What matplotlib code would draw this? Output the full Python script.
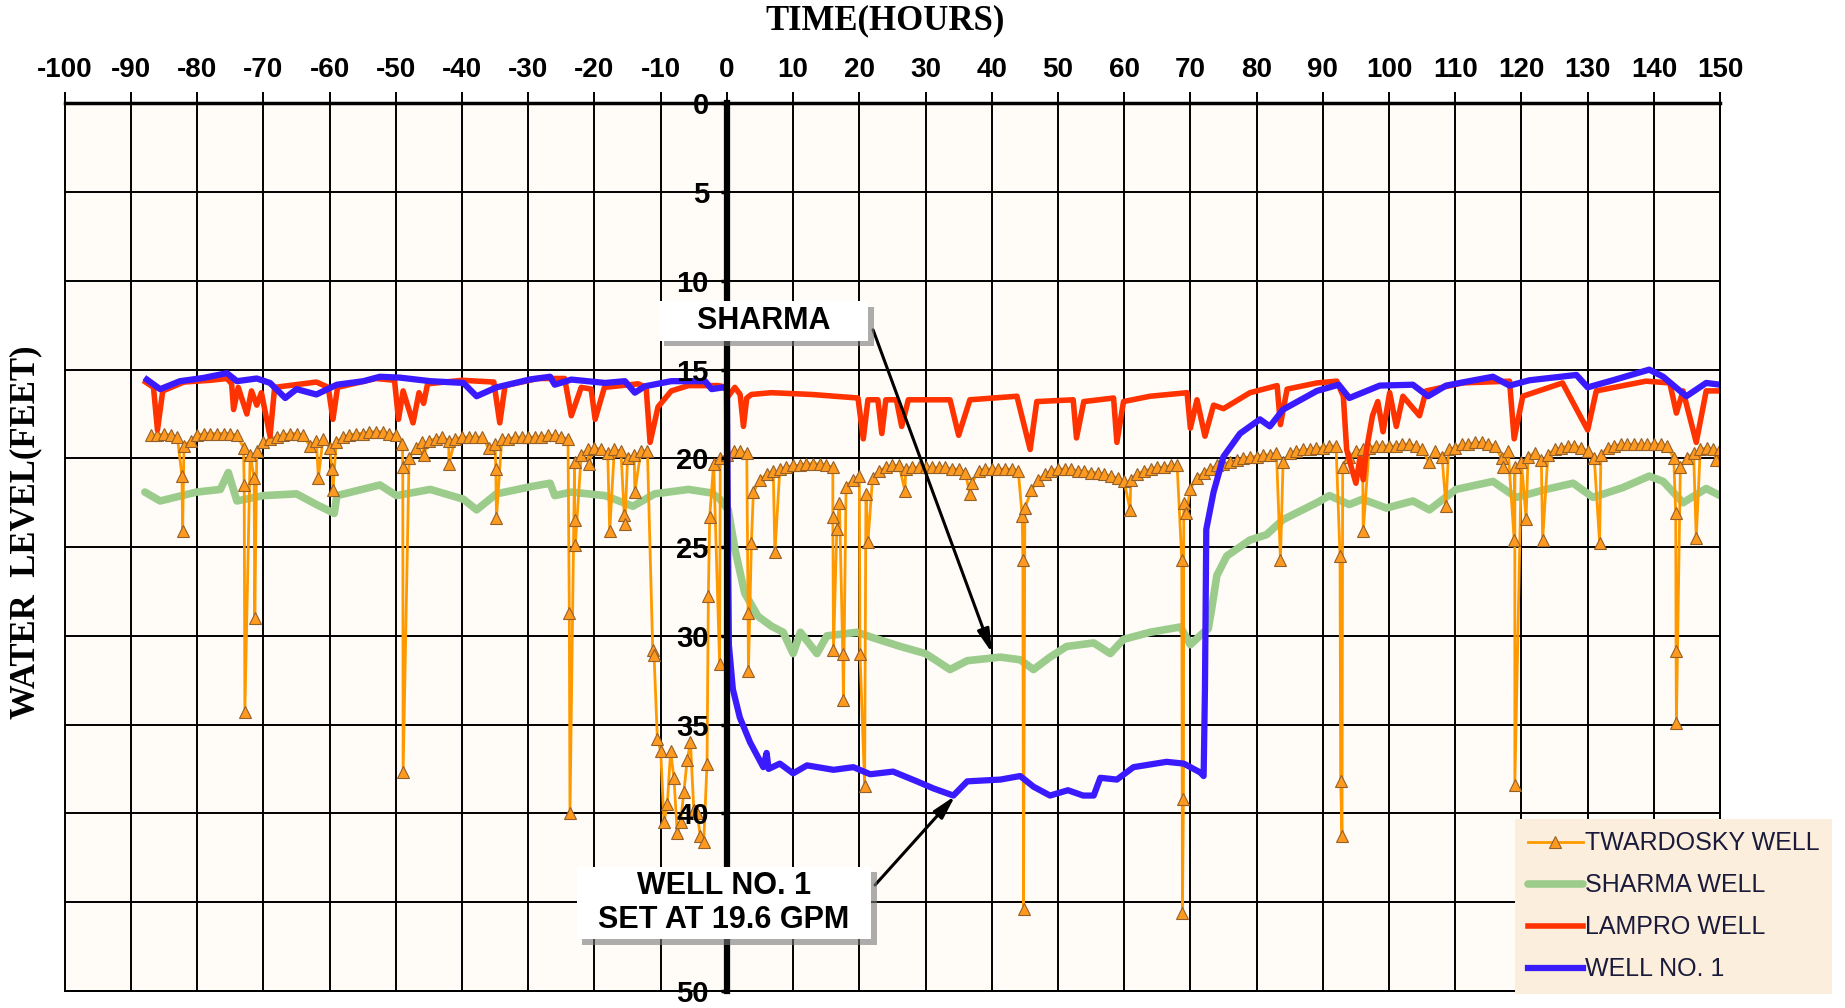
import numpy as np
import matplotlib
matplotlib.use("Agg")
import matplotlib.pyplot as plt
import matplotlib.patheffects as pe

plt.rcParams['axes.unicode_minus'] = False

# ---- WELL NO. 1 (pumped well) ----
well_t = [-87.6, -85.6, -82.6, -79.1, -75.5, -74.0, -71.0, -69.0, -66.7, -65.0,
          -62.0, -58.9, -54.9, -52.4, -49.4, -44.8, -39.8, -37.8, -34.8, -29.7,
          -26.7, -26.0, -23.5, -18.4, -15.4, -13.9, -12.4, -8.4, -3.3, -2.3,
          -0.55, 0.0, 0.15, 0.3, 0.9, 1.95, 3.5, 5.5, 6.0, 6.3,
          8.0, 10.0, 12.1, 16.1, 19.1, 21.65, 25.1, 28.7, 31.2, 34.2,
          36.3, 41.3, 44.3, 46.3, 48.8, 51.5, 53.8, 55.4, 56.4, 58.9,
          61.4, 66.4, 69.0, 71.5, 72.0, 72.2, 72.4, 73.5, 75.0, 77.5,
          80.5, 82.0, 84.0, 89.1, 92.4, 94.0, 98.6, 103.6, 105.9, 108.6,
          112.1, 115.7, 118.2, 121.2, 128.3, 130.0, 133.8, 139.3, 141.4, 144.9,
          147.9, 150.0]
well_y = [15.56, 16.1, 15.65, 15.47, 15.2, 15.65, 15.5, 15.75, 16.6, 16.1,
          16.4, 15.85, 15.65, 15.4, 15.45, 15.65, 15.75, 16.5, 16.0, 15.55,
          15.4, 15.85, 15.56, 15.75, 15.65, 16.3, 15.94, 15.65, 15.65, 16.1,
          16.0, 16.1, 24.0, 30.5, 33.0, 34.6, 36.0, 37.4, 36.6, 37.5,
          37.2, 37.75, 37.3, 37.55, 37.4, 37.8, 37.65, 38.2, 38.6, 39.0,
          38.2, 38.1, 37.9, 38.5, 39.0, 38.7, 39.0, 39.0, 38.0, 38.1,
          37.4, 37.1, 37.2, 37.7, 37.9, 33.0, 24.0, 21.9, 19.9, 18.6,
          17.8, 18.2, 17.25, 16.2, 15.85, 16.6, 15.9, 15.85, 16.5, 15.9,
          15.65, 15.4, 15.9, 15.6, 15.3, 16.0, 15.6, 15.0, 15.4, 16.5,
          15.75, 15.85]

# ---- LAMPRO WELL ----
lam_t = [-87.8, -86.6, -86.0, -85.2, -82.0, -78.0, -75.5, -74.8, -74.5, -73.8,
         -72.5, -71.8, -71.0, -70.3, -69.0, -68.3, -62.0, -60.2, -59.5, -58.8,
         -53.0, -50.2, -49.6, -48.9, -47.4, -46.5, -45.8, -45.2, -40.0, -35.2,
         -34.3, -33.5, -28.5, -24.5, -23.5, -22.0, -20.5, -19.9, -18.5, -13.4,
         -12.2, -11.6, -10.4, -8.4, -5.8, -1.3, 0.0, 0.2, 1.2, 2.0,
         2.5, 3.0, 3.7, 6.7, 12.8, 19.8, 20.6, 21.3, 22.8, 23.4,
         24.0, 25.6, 26.4, 27.4, 33.7, 35.0, 36.7, 43.8, 45.8, 46.8,
         52.3, 52.8, 53.9, 58.4, 58.9, 59.9, 63.9, 69.5, 70.0, 71.0,
         72.2, 73.5, 75.0, 79.0, 83.1, 83.6, 84.6, 89.1, 92.1, 93.1,
         93.6, 94.3, 95.0, 95.6, 96.1, 96.6, 97.5, 98.3, 99.1, 100.1,
         101.1, 102.1, 104.6, 105.6, 111.1, 118.2, 118.9, 120.2, 126.2, 130.0,
         131.3, 138.8, 142.4, 143.4, 144.4, 146.4, 147.9, 150.0]
lam_y = [15.7, 16.0, 18.4, 16.2, 15.7, 15.6, 15.5, 15.8, 17.25, 16.0,
         17.5, 16.2, 17.0, 16.3, 18.75, 16.0, 15.7, 16.0, 17.8, 16.0,
         15.5, 15.6, 17.8, 16.2, 18.0, 16.3, 16.9, 15.8, 15.6, 15.7,
         18.0, 15.9, 15.5, 15.5, 17.6, 16.0, 16.1, 17.8, 16.0, 15.8,
         16.0, 19.1, 17.1, 16.2, 15.9, 15.9, 16.0, 16.5, 16.0, 16.4,
         18.2, 16.6, 16.4, 16.3, 16.4, 16.6, 18.9, 16.7, 16.7, 18.6,
         16.7, 16.7, 18.2, 16.7, 16.7, 18.7, 16.7, 16.5, 19.5, 16.8,
         16.7, 18.85, 16.8, 16.6, 19.1, 16.8, 16.5, 16.3, 18.3, 16.7,
         18.75, 17.0, 17.2, 16.3, 15.9, 18.1, 16.1, 15.75, 15.65, 16.5,
         19.5, 20.5, 21.4, 20.0, 21.2, 19.5, 17.6, 16.8, 18.5, 16.3,
         18.2, 16.5, 17.6, 16.2, 15.75, 15.65, 18.9, 16.5, 15.75, 18.4,
         16.2, 15.65, 15.75, 17.45, 16.2, 19.1, 16.2, 16.2]

# ---- SHARMA WELL ----
sh_t = [-87.9, -85.6, -80.1, -76.5, -75.3, -74.0, -70.0, -65.0, -62.0, -59.3,
        -58.9, -52.4, -49.9, -44.8, -39.8, -37.8, -34.8, -29.7, -26.7, -26.0,
        -23.5, -18.4, -14.2, -10.9, -5.8, -2.3, -1.06, 0.2, 1.2, 2.7,
        4.7, 6.7, 8.5, 10.0, 11.1, 13.6, 15.1, 19.7, 22.0, 26.2,
        30.0, 33.7, 36.3, 41.3, 44.3, 46.3, 48.8, 51.3, 55.4, 57.9,
        59.9, 63.9, 68.5, 70.0, 72.0, 72.7, 73.2, 74.0, 75.5, 79.0,
        81.5, 84.0, 89.1, 91.0, 94.0, 96.0, 99.6, 103.6, 106.1, 110.1,
        115.7, 119.2, 123.7, 127.8, 130.8, 135.3, 139.3, 141.4, 144.4, 147.9,
        150.0]
sh_y = [21.9, 22.4, 21.9, 21.75, 20.8, 22.4, 22.1, 22.0, 22.6, 23.1,
        22.1, 21.5, 22.1, 21.75, 22.3, 22.9, 22.0, 21.6, 21.4, 22.1,
        21.9, 22.1, 22.7, 22.0, 21.75, 21.95, 22.3, 22.9, 25.1, 27.6,
        28.9, 29.45, 29.8, 31.0, 29.8, 31.0, 30.0, 29.8, 30.1, 30.6,
        31.0, 31.9, 31.4, 31.2, 31.35, 31.9, 31.2, 30.6, 30.4, 31.0,
        30.2, 29.8, 29.5, 30.5, 29.8, 29.6, 28.5, 26.6, 25.5, 24.6,
        24.3, 23.45, 22.5, 22.1, 22.6, 22.3, 22.8, 22.4, 22.9, 21.75,
        21.3, 22.2, 21.75, 21.4, 22.2, 21.65, 21.0, 21.3, 22.5, 21.7,
        22.1]

# ---- TWARDOSKY WELL: hourly readings from -87 h to 150 h ----
tw_hours = np.arange(-87, 151)
tw_base = [
    18.7, 18.7, 18.6, 18.7, 18.8, 19.3, 19.0, 18.7, 18.6, 18.6,   # -87..-78
    18.6, 18.6, 18.6, 18.7, 19.4, 19.8, 19.6, 19.1, 18.9, 18.8,   # -77..-68
    18.7, 18.6, 18.6, 18.7, 19.3, 19.0, 18.9, 19.4, 19.1, 18.8,   # -67..-58
    18.7, 18.6, 18.6, 18.5, 18.5, 18.5, 18.6, 18.7, 19.2, 20.0,   # -57..-48
    19.4, 19.1, 19.0, 18.9, 18.8, 19.0, 18.9, 18.8, 18.8, 18.8,   # -47..-38
    18.8, 19.4, 19.2, 18.9, 18.9, 18.8, 18.8, 18.8, 18.8, 18.8,   # -37..-28
    18.7, 18.7, 18.8, 18.9, 20.2, 19.8, 19.5, 19.4, 19.5, 19.7,   # -27..-18
    19.5, 19.6, 20.0, 19.8, 19.6, 19.6, 31.1, 36.5, 39.5, 38.0,   # -17..-8
    40.5, 37.0, 39.8, 41.3, 37.2, 20.3, 20.0, 19.8, 19.6, 19.6,   # -7..2
    19.7, 21.9, 21.2, 20.9, 20.7, 20.6, 20.5, 20.4, 20.4, 20.3,   # 3..12
    20.3, 20.3, 20.4, 20.5, 22.5, 21.6, 21.2, 21.0, 22.0, 21.1,   # 13..22
    20.7, 20.5, 20.4, 20.4, 20.6, 20.5, 20.5, 20.5, 20.5, 20.5,   # 23..32
    20.5, 20.6, 20.6, 20.8, 21.4, 20.7, 20.6, 20.6, 20.6, 20.6,   # 33..42
    20.6, 20.7, 22.8, 21.8, 21.2, 20.9, 20.7, 20.6, 20.6, 20.6,   # 43..52
    20.7, 20.7, 20.8, 20.8, 20.9, 21.0, 21.1, 21.3, 21.2, 20.9,   # 53..62
    20.7, 20.6, 20.5, 20.5, 20.4, 20.4, 22.5, 21.7, 21.1, 20.8,   # 63..72
    20.6, 20.4, 20.3, 20.2, 20.1, 20.0, 19.9, 19.9, 19.8, 19.8,   # 73..82
    19.7, 20.2, 19.7, 19.6, 19.5, 19.5, 19.4, 19.4, 19.3, 19.3,   # 83..92
    20.5, 19.9, 19.6, 19.5, 19.4, 19.3, 19.3, 19.3, 19.3, 19.2,   # 93..102
    19.2, 19.3, 19.5, 20.2, 19.6, 19.9, 19.5, 19.4, 19.2, 19.2,   # 103..112
    19.1, 19.1, 19.2, 19.3, 20.0, 19.6, 20.5, 20.2, 19.9, 19.7,   # 113..122
    20.1, 19.8, 19.5, 19.4, 19.3, 19.3, 19.4, 19.6, 20.0, 19.8,   # 123..132
    19.4, 19.3, 19.2, 19.2, 19.2, 19.2, 19.2, 19.2, 19.2, 19.3,   # 133..142
    20.0, 20.5, 20.0, 19.7, 19.5, 19.4, 19.5, 19.5,               # 143..150
]
# extra readings in between (drawdown spikes)
tw_spike_t = [-82.3, -82.2, -72.9, -72.8, -71.4, -71.3, -61.7, -59.6, -59.5, -48.95,
              -48.9, -45.8, -42.0, -34.9, -34.8, -23.8, -23.7, -23.0, -22.9, -20.9,
              -17.7, -15.5, -15.4, -13.9, -11.2, -10.5, -9.5, -8.5, -7.5, -6.5,
              -5.5, -4.5, -3.5, -2.8, -2.6, -1.1, 3.2, 3.25, 3.7, 7.25,
              16.0, 16.1, 16.6, 17.5, 17.6, 20.1, 20.8, 21.3, 26.9, 36.7,
              44.6, 44.7, 44.8, 60.9, 68.7, 68.8, 68.95, 69.4, 83.6, 92.6,
              92.7, 92.9, 96.1, 108.6, 117.2, 118.9, 119.0, 120.7, 123.2, 131.8,
              143.3, 143.35, 143.4, 146.4, 149.4]
tw_spike_y = [21.0, 24.1, 21.5, 34.3, 21.1, 29.0, 21.1, 20.6, 21.8, 20.5,
              37.7, 19.8, 20.3, 20.6, 23.35, 28.7, 40.0, 23.5, 24.9, 20.3,
              24.1, 23.2, 23.7, 21.9, 30.8, 35.8, 40.5, 36.5, 41.1, 38.8,
              36.0, 40.0, 41.6, 27.75, 23.3, 31.6, 28.7, 32.0, 24.75, 25.3,
              23.3, 30.8, 24.0, 31.0, 33.6, 31.0, 38.45, 24.7, 21.85, 22.0,
              23.25, 25.7, 45.4, 22.9, 25.7, 45.6, 39.2, 23.1, 25.7, 25.5,
              38.2, 41.3, 24.1, 22.7, 20.5, 24.6, 38.4, 23.4, 24.6, 24.75,
              23.1, 30.85, 34.9, 24.5, 20.1]

tw_t = np.concatenate([tw_hours, tw_spike_t])
tw_y = np.concatenate([tw_base, tw_spike_y])
order = np.argsort(tw_t, kind='stable')
tw_t, tw_y = tw_t[order], tw_y[order]

x_ticks = np.arange(-100, 151, 10)
y_ticks = np.arange(0, 51, 5)
# the 45 label sits under the WELL NO. 1 callout in the original
y_labels = ['' if v == 45 else str(v) for v in y_ticks]

fig = plt.figure(figsize=(18.45, 10.08), dpi=100)
ax = fig.add_axes([0.0351, 0.0171, 0.8972, 0.8803])
ax.set_facecolor('#FFFCF7')
ax.set_xlim(-100, 150)
ax.set_ylim(50, 0)

# y axis drawn at time zero (do this before styling tick labels)
ax.spines['left'].set_position(('data', 0))
ax.spines['left'].set_linewidth(4.5)
ax.spines['top'].set_linewidth(2.5)
for s in ['right', 'bottom']:
    ax.spines[s].set_linewidth(1.4)

# grid
for v in x_ticks:
    ax.axvline(v, color='black', lw=1.4, zorder=1, clip_on=False)
for v in y_ticks:
    ax.axhline(v, color='black', lw=1.4, zorder=1, clip_on=False)

tw_line, = ax.plot(tw_t, tw_y, color='#FF9900', lw=2.0, marker='^', ms=8,
                   mfc='#FF9A1F', mec='#94602A', mew=0.8, zorder=2.1,
                   label='TWARDOSKY WELL')
sh_line, = ax.plot(sh_t, sh_y, color='#9CCC8C', lw=5.5, zorder=2.0,
                   solid_joinstyle='round', solid_capstyle='round',
                   label='SHARMA WELL')
lam_line, = ax.plot(lam_t, lam_y, color='#FF3300', lw=4.0, zorder=2.2,
                    solid_joinstyle='round', label='LAMPRO WELL')
well_line, = ax.plot(well_t, well_y, color='#3A1AFF', lw=4.5, zorder=2.3,
                     solid_joinstyle='round', label='WELL NO. 1')

ax.xaxis.tick_top()
ax.set_xticks(x_ticks)
ax.set_xticklabels([str(v) for v in x_ticks],
                   family=['Liberation Sans Narrow', 'Liberation Sans'],
                   fontweight='bold', fontsize=20)
ax.tick_params(axis='x', direction='out', length=8, width=1.4, pad=7)
ax.set_yticks(y_ticks)
ax.set_yticklabels(y_labels, family='Liberation Sans',
                   fontweight='bold', fontsize=21)
ax.tick_params(axis='y', direction='out', length=4, width=2.5, pad=9)
ax.yaxis.set_zorder(3)

fig.text(885 / 1845, 1 - 21 / 1008, 'TIME(HOURS)', ha='center', va='center',
         family='Liberation Serif', fontweight='bold', fontsize=25)
fig.text(26 / 1845, 1 - 532 / 1008, 'WATER  LEVEL(FEET)', ha='center',
         va='center', rotation=90, family='Liberation Serif',
         fontweight='bold', fontsize=25)

# callouts
shadow = [pe.withSimplePatchShadow(offset=(4, -4), shadow_rgbFace='#777777', alpha=0.6)]
t1 = ax.text(5.54, 12.26, '    SHARMA    ', ha='center', va='center',
             family='Liberation Sans', fontweight='bold', fontsize=22, zorder=7,
             bbox=dict(boxstyle='square,pad=0.15', fc='white', ec='none'))
t1.get_bbox_patch().set_path_effects(shadow)
ax.annotate('', xy=(40.05, 30.97), xytext=(22.08, 12.76), zorder=6,
            arrowprops=dict(arrowstyle='-|>,head_length=0.7,head_width=0.18',
                            color='black', lw=2.2, shrinkA=0, shrinkB=0,
                            mutation_scale=20))

t2 = ax.text(-0.42, 45.05, '  WELL NO. 1  \n  SET AT 19.6 GPM  ', ha='center',
             va='center', multialignment='center', linespacing=1.15,
             family='Liberation Sans', fontweight='bold', fontsize=22, zorder=7,
             bbox=dict(boxstyle='square,pad=0.15', fc='white', ec='none'))
t2.get_bbox_patch().set_path_effects(shadow)
ax.annotate('', xy=(34.47, 39.02), xytext=(22.38, 44.04), zorder=6,
            arrowprops=dict(arrowstyle='-|>,head_length=0.7,head_width=0.18',
                            color='black', lw=2.2, shrinkA=0, shrinkB=0,
                            mutation_scale=20))

leg = fig.legend([tw_line, sh_line, lam_line, well_line],
                 ['TWARDOSKY WELL', 'SHARMA WELL', 'LAMPRO WELL', 'WELL NO. 1'],
                 loc='lower left', bbox_to_anchor=(1515 / 1845, 14 / 1008),
                 frameon=True, fancybox=False, facecolor='#FCEEDC',
                 edgecolor='none', framealpha=1,
                 prop=dict(family='Liberation Sans', size=18),
                 handlelength=2.2, handletextpad=0.1, labelspacing=0.72,
                 borderpad=0.5, borderaxespad=0)
for txt in leg.get_texts():
    txt.set_color('#1A1A3A')

fig.savefig('out.png', dpi=100)
